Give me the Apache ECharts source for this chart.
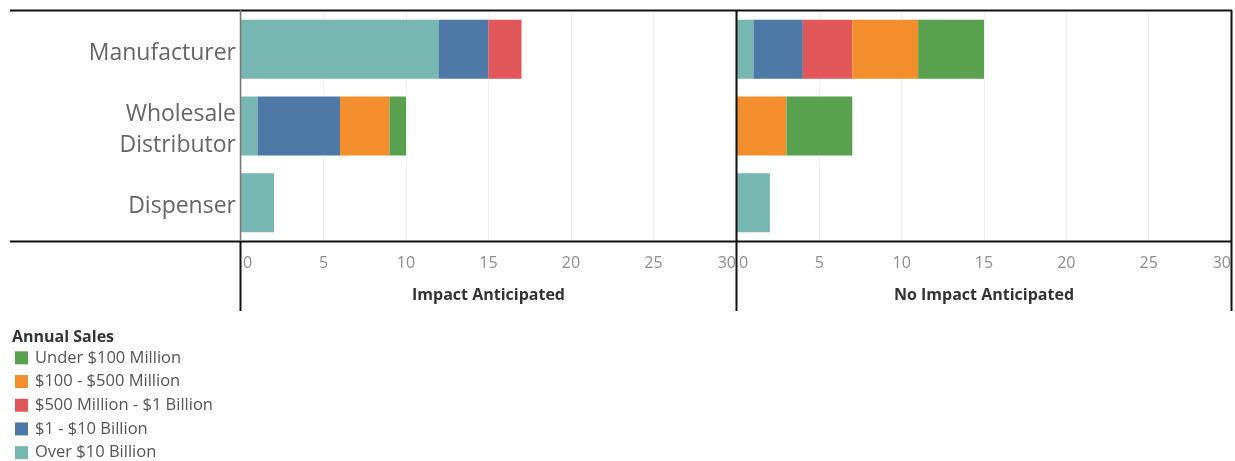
<!DOCTYPE html>
<html>
<head>
<meta charset="utf-8">
<script src="https://cdn.jsdelivr.net/npm/echarts@6/dist/echarts.min.js"></script>
<style>
html,body{margin:0;padding:0;background:#fff;}
#chart{width:1235px;height:461px;}
</style>
</head>
<body>
<div id="chart"></div>
<script>
var categories = ['Manufacturer', 'Wholesale\nDistributor', 'Dispenser'];
var panelTitles = ['Impact Anticipated', 'No Impact Anticipated'];
var seriesNames = ['Over $10 Billion', '$1 - $10 Billion', '$500 Million - $1 Billion', '$100 - $500 Million', 'Under $100 Million'];
var legendOrder = ['Under $100 Million', '$100 - $500 Million', '$500 Million - $1 Billion', '$1 - $10 Billion', 'Over $10 Billion'];
var colors = ['#76B7B2', '#4E79A7', '#E15759', '#F28E2B', '#59A14F'];

var impactOver10B = [12, 1, 2];
var impact1to10B = [3, 5, 0];
var impact500Mto1B = [2, 0, 0];
var impact100to500M = [0, 3, 0];
var impactUnder100M = [0, 1, 0];

var noImpactOver10B = [1, 0, 2];
var noImpact1to10B = [3, 0, 0];
var noImpact500Mto1B = [3, 0, 0];
var noImpact100to500M = [4, 3, 0];
var noImpactUnder100M = [4, 4, 0];

var xTicks = [0, 5, 10, 15, 20, 25, 30];

var impactData = [impactOver10B, impact1to10B, impact500Mto1B, impact100to500M, impactUnder100M];
var noImpactData = [noImpactOver10B, noImpact1to10B, noImpact500Mto1B, noImpact100to500M, noImpactUnder100M];

var FONT = '"Open Sans", "Noto Sans", sans-serif';
var chart = echarts.init(document.getElementById('chart'));

function xAxisDef(gridIndex, name) {
  return {
    type: 'value', gridIndex: gridIndex, min: xTicks[0], max: xTicks[xTicks.length - 1], interval: 5,
    axisLine: {show: false}, axisTick: {show: false},
    splitLine: {show: true, lineStyle: {color: '#efefef', width: 1}},
    axisLabel: {
      color: '#8e8e8e', fontSize: 16, fontFamily: FONT, margin: 14, alignMinLabel: 'left', alignMaxLabel: 'right',
      formatter: function (v) { return v === 0 ? '{z|0}' : String(v); },
      rich: {z: {color: '#8e8e8e', fontSize: 16, fontFamily: FONT, padding: [0, 0, 0, 2]}}
    },
    name: name, nameLocation: 'middle', nameGap: 46,
    nameTextStyle: {color: '#333', fontSize: 16, fontWeight: 'bold', fontFamily: FONT}
  };
}
function yAxisDef(gridIndex, showLabels) {
  return {
    type: 'category', gridIndex: gridIndex, data: categories, inverse: true,
    axisLabel: {
      show: showLabels, color: '#666', fontSize: 23, fontFamily: FONT, lineHeight: 31, margin: 5, align: 'right',
      formatter: function (v) {
        return v.split('\n').map(function (s) { return '{c|' + s + '}'; }).join('\n');
      },
      rich: {c: {color: '#666', fontSize: 23, fontFamily: FONT, lineHeight: 31, padding: [8, 0, 0, 0]}}
    },
    axisLine: {show: false}, axisTick: {show: false}, splitLine: {show: false}
  };
}

var series = [];
seriesNames.forEach(function (n, i) {
  series.push({
    name: n, type: 'bar', stack: 'impact', xAxisIndex: 0, yAxisIndex: 0,
    data: impactData[i], itemStyle: {color: colors[i]}, barCategoryGap: '23%', emphasis: {disabled: true}
  });
  series.push({
    name: n, type: 'bar', stack: 'noimpact', xAxisIndex: 1, yAxisIndex: 1,
    data: noImpactData[i], itemStyle: {color: colors[i]}, barCategoryGap: '23%', emphasis: {disabled: true}
  });
});

var lines = [
  {x1: 10, y1: 10.5, x2: 1232, y2: 10.5, c: '#111', w: 2},
  {x1: 10, y1: 241.5, x2: 1232, y2: 241.5, c: '#111', w: 2},
  {x1: 240.5, y1: 10, x2: 240.5, y2: 241, c: '#777', w: 1.5},
  {x1: 240.5, y1: 241, x2: 240.5, y2: 311, c: '#111', w: 2},
  {x1: 736.5, y1: 10, x2: 736.5, y2: 311, c: '#111', w: 2},
  {x1: 1231.5, y1: 10, x2: 1231.5, y2: 311, c: '#111', w: 2}
];

chart.setOption({
  animation: false,
  backgroundColor: '#fff',
  color: colors,
  title: {
    text: 'Annual Sales', left: 7, top: 324,
    textStyle: {color: '#333', fontSize: 16, fontWeight: 'bold', fontFamily: FONT}
  },
  legend: {
    orient: 'vertical', left: 10, top: 344, height: 130, data: legendOrder,
    itemWidth: 13, itemHeight: 13, itemGap: 6, icon: 'rect',
    textStyle: {color: '#555', fontSize: 16.5, lineHeight: 17.7, fontFamily: FONT, padding: [0, 0, 0, 2]},
    selectedMode: false
  },
  grid: [
    {left: 241, right: 1235 - 736, top: 11, height: 230, containLabel: false},
    {left: 737, right: 1235 - 1231, top: 11, height: 230, containLabel: false}
  ],
  xAxis: [xAxisDef(0, panelTitles[0]), xAxisDef(1, panelTitles[1])],
  yAxis: [yAxisDef(0, true), yAxisDef(1, false)],
  series: series,
  graphic: lines.map(function (l) {
    return {type: 'line', shape: {x1: l.x1, y1: l.y1, x2: l.x2, y2: l.y2}, style: {stroke: l.c, lineWidth: l.w}, z: 100};
  })
});
</script>
</body>
</html>
